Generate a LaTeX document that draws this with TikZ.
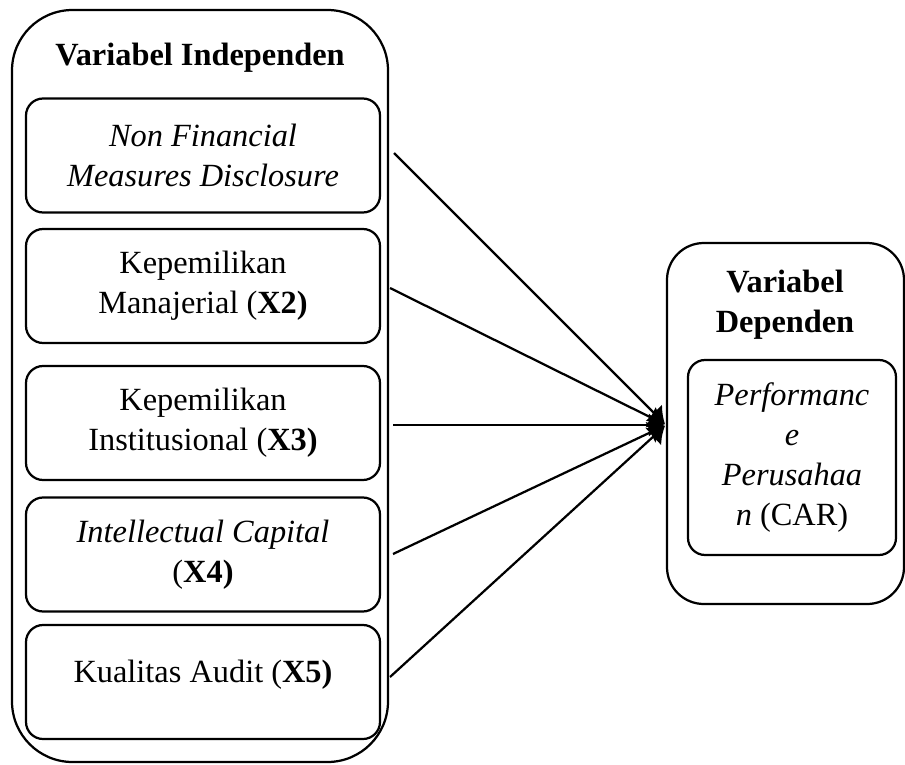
\documentclass[tikz,border=0pt]{standalone}
\usepackage{fontspec}
\setmainfont{Liberation Serif}
\usetikzlibrary{arrows.meta,positioning}

\begin{document}
\begin{tikzpicture}[
x=0.38pt, y=-0.38pt,
font=\fontsize{12.3}{15.2}\selectfont,
outer/.style={
		draw=black,
		line width=0.85pt,
		inner sep=0pt,
		},
varbox/.style={
		draw=black,
		line width=0.85pt,
		rounded corners=6.5pt,
		align=center,
		inner sep=0pt,
		minimum width=354*0.38pt,
		minimum height=114*0.38pt,
		},
link/.style={line width=0.85pt, -{Latex[length=6pt,width=9pt]}, shorten >=0.5pt},
]

\useasboundingbox (0,0) rectangle (905,764);

% kelompok kiri
\node[outer, rounded corners=23pt, minimum width=376*0.38pt, minimum height=752*0.38pt] (indep) at (200,386) {};
\node[font=\fontsize{12.3}{15.2}\selectfont\bfseries] (indeptitle) at (200,58) {Variabel Independen};

\node[varbox] (x1) at (203,155.5) {\textit{Non Financial}\\\textit{Measures Disclosure}};
\node[varbox] (x2) at (203,286) {Kepemilikan\\Manajerial (\textbf{X2)}};
\node[varbox] (x3) at (203,423) {Kepemilikan\\Institusional (\textbf{X3)}};
\node[varbox] (x4) at (203,554.5) {\textit{Intellectual Capital}\\(\textbf{X4)}};
\node[varbox, text depth=8pt] (x5) at (203,682) {Kualitas Audit (\textbf{X5)}};

% kelompok kanan
\node[outer, rounded corners=14pt, minimum width=237*0.38pt, minimum height=361*0.38pt] (dep) at (785.5,423.5) {};
\node[align=center, font=\fontsize{12.3}{15.2}\selectfont\bfseries] (deptitle) at (785,305) {Variabel\\Dependen};
\node[varbox, minimum width=208*0.38pt, minimum height=195*0.38pt] (y) at (792,457.5)
  {\textit{Performanc}\\\textit{e}\\\textit{Perusahaa}\\\textit{n} (CAR)};

% panah
\coordinate (tip) at (666,425);
\coordinate (s1) at (394,153);
\coordinate (s2) at (390,288);
\coordinate (s3) at (393,425);
\coordinate (s4) at (393,554);
\coordinate (s5) at (390,677);

\foreach \s in {1,...,5}
{
  \draw[link] (s\s) -- (tip);
}

\end{tikzpicture}
\end{document}
